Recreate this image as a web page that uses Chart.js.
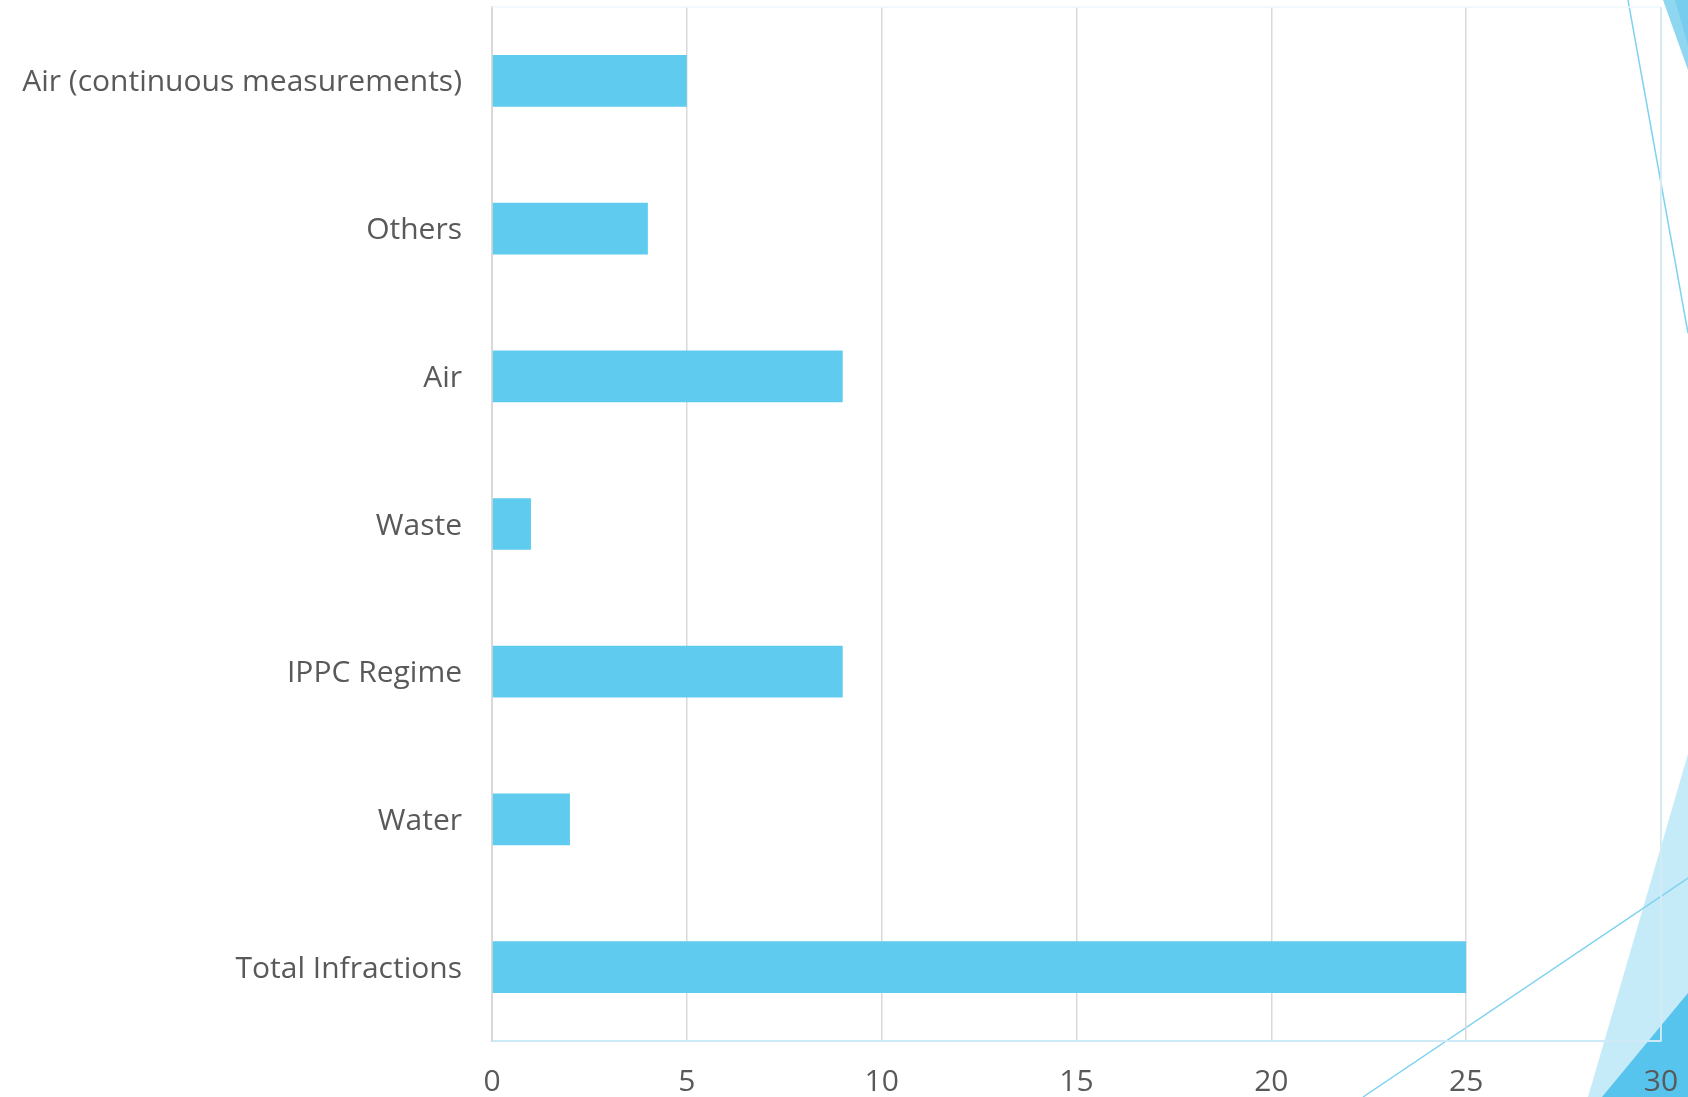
<!DOCTYPE html>
<html lang="en">
<head>
    <meta charset="UTF-8">
    <title>Infractions</title>
    <script src="https://cdn.jsdelivr.net/npm/chart.js"></script>
    <style>
        html, body { margin: 0; padding: 0; background: #fff; }
        #wrap { width: 1688px; height: 1097px; }
    </style>
</head>
<body>
    <div id="wrap">
        <canvas id="myChart"></canvas>
    </div>
    <script>
        // categories, top to bottom
        const categories = [
            'Air (continuous measurements)',
            'Others',
            'Air',
            'Waste',
            'IPPC Regime',
            'Water',
            'Total Infractions'
        ];
        const infractions = [5, 4, 9, 1, 9, 2, 25];
        const xTicks = [0, 5, 10, 15, 20, 25, 30];

        // slide decoration (triangles and thin lines of the theme)
        const slideDecor = {
            id: 'slideDecor',
            beforeDraw(chart) {
                const c = chart.ctx;
                c.save();
                c.fillStyle = '#ffffff';
                c.fillRect(0, 0, chart.width, chart.height);

                // top right triangles
                c.fillStyle = '#8fd6f0';
                c.beginPath();
                c.moveTo(1663, 0); c.lineTo(1688, 0); c.lineTo(1688, 70); c.closePath();
                c.fill();
                c.fillStyle = '#76cdee';
                c.beginPath();
                c.moveTo(1675, 0); c.lineTo(1688, 0); c.lineTo(1688, 45); c.closePath();
                c.fill();

                // bottom right triangles
                c.fillStyle = '#c5eaf8';
                c.beginPath();
                c.moveTo(1588, 1097); c.lineTo(1688, 754); c.lineTo(1688, 1097); c.closePath();
                c.fill();
                c.fillStyle = '#56c4ec';
                c.beginPath();
                c.moveTo(1602, 1097); c.lineTo(1688, 993); c.lineTo(1688, 1097); c.closePath();
                c.fill();

                // thin lines
                c.strokeStyle = '#7fd2f0';
                c.lineWidth = 1.5;
                c.beginPath();
                c.moveTo(1628, 0); c.lineTo(1688, 333);
                c.moveTo(1363, 1097); c.lineTo(1688, 878);
                c.stroke();
                c.restore();
            },
            afterDraw(chart) {
                const a = chart.chartArea;
                const c = chart.ctx;
                c.save();
                c.lineWidth = 1.5;
                c.strokeStyle = '#eef7fc';
                c.beginPath();
                c.moveTo(a.left, a.top); c.lineTo(a.right, a.top);
                c.stroke();
                c.strokeStyle = '#d3eef9';
                c.beginPath();
                c.moveTo(a.right, a.top); c.lineTo(a.right, a.bottom);
                c.stroke();
                c.restore();
            }
        };

        const ctx = document.getElementById('myChart').getContext('2d');
        new Chart(ctx, {
            type: 'bar',
            data: {
                labels: categories,
                datasets: [{
                    label: 'Infractions',
                    data: infractions,
                    backgroundColor: '#5fcbef',
                    barPercentage: 0.35,
                    categoryPercentage: 1
                }]
            },
            options: {
                indexAxis: 'y',
                responsive: true,
                maintainAspectRatio: false,
                animation: false,
                layout: { padding: { left: 0, top: 7, right: 27, bottom: 0 } },
                plugins: {
                    legend: { display: false },
                    tooltip: { enabled: false }
                },
                scales: {
                    x: {
                        min: 0,
                        max: 30,
                        afterBuildTicks: s => { s.ticks = xTicks.map(v => ({ value: v })); },
                        afterFit: s => {
                            s.height = 56;
                            s.paddingLeft = 0;
                            s.paddingRight = 0;
                        },
                        grid: { color: '#d9d9d9', lineWidth: 1.5, drawTicks: false },
                        border: { color: '#cdeaf6', width: 2 },
                        ticks: {
                            color: '#595959',
                            font: { family: 'Open Sans', size: 30 },
                            padding: 23
                        }
                    },
                    y: {
                        afterFit: s => {
                            s.width = 492;
                            s.paddingTop = 0;
                            s.paddingBottom = 0;
                        },
                        grid: { display: false, drawTicks: false },
                        border: { color: '#d9d9d9', width: 2 },
                        ticks: {
                            color: '#595959',
                            font: { family: 'Open Sans', size: 30 },
                            padding: 30,
                            labelOffset: 2
                        }
                    }
                }
            },
            plugins: [slideDecor]
        });
    </script>
</body>
</html>
